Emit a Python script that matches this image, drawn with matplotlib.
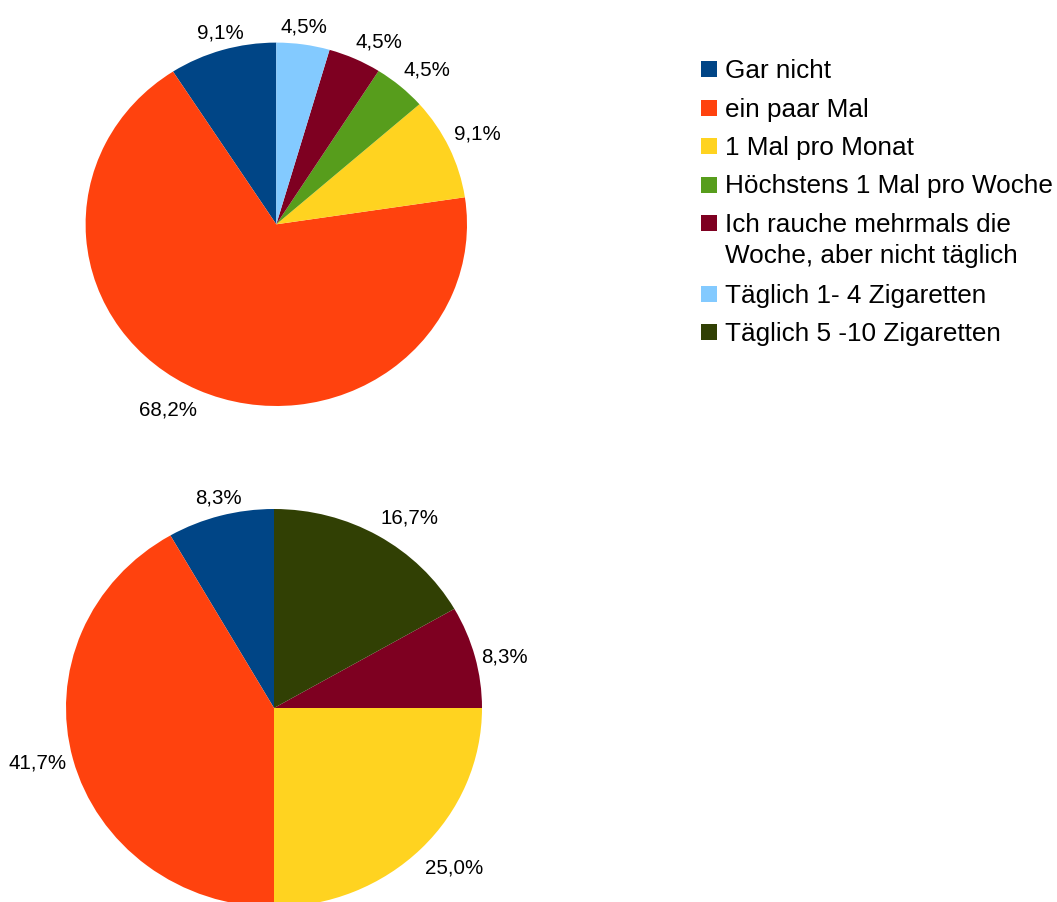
import numpy as np
import matplotlib
matplotlib.use('Agg')
from matplotlib import pyplot as plt
from matplotlib.patches import Rectangle
from matplotlib.transforms import offset_copy

plt.rcParams['font.family'] = ['Liberation Sans', 'DejaVu Sans']

categories = [
    'Gar nicht',
    'ein paar Mal',
    '1 Mal pro Monat',
    'Höchstens 1 Mal pro Woche',
    'Ich rauche mehrmals die\nWoche, aber nicht täglich',
    'Täglich 1- 4 Zigaretten',
    'Täglich 5 -10 Zigaretten',
]
colors = ['#004586', '#ff420e', '#ffd320', '#579d1c', '#7e0021', '#83caff', '#314004']

# percentages as printed on the two pies
top_pct = [9.1, 68.2, 9.1, 4.5, 4.5, 4.5, 0.0]
bottom_pct = [8.3, 41.7, 25.0, 0.0, 8.3, 0.0, 16.7]

W, H = 1057, 902
fig = plt.figure(figsize=(W / 100, H / 100), dpi=100)

LIM = 1.35


def pie_axes(cx, cy, rx, ry):
    # cx, cy in pixels from top-left; rx, ry radius in pixels
    w = 2 * LIM * rx
    h = 2 * LIM * ry
    left = cx - w / 2
    bottom = (H - cy) - h / 2
    return fig.add_axes([left / W, bottom / H, w / W, h / H])


def draw_pie(ax, values):
    keep = [i for i, v in enumerate(values) if v > 0]
    vals = [values[i] for i in keep]
    wedges, _ = ax.pie(vals, colors=[colors[i] for i in keep], startangle=90,
                       counterclock=True, wedgeprops=dict(linewidth=0))
    ax.set_aspect('auto')
    ax.set_xlim(-LIM, LIM)
    ax.set_ylim(-LIM, LIM)
    for w, v in zip(wedges, vals):
        mid = np.deg2rad((w.theta1 + w.theta2) / 2)
        c, s = np.cos(mid), np.sin(mid)
        ha = 'center' if abs(c) < 0.35 else ('left' if c > 0 else 'right')
        va = 'center' if abs(s) < 0.35 else ('baseline' if s > 0 else 'top')
        dy = {'top': -4, 'baseline': 5, 'center': -2}[va]
        dx = {'left': -2, 'right': 2, 'center': 0}[ha]
        tr = offset_copy(ax.transData, fig=fig, x=dx, y=dy, units='dots')
        ax.text(1.04 * c, 1.04 * s, f'{v:.1f}%'.replace('.', ','), transform=tr,
                ha=ha, va=va, fontsize=14.8, color='black')


ax1 = pie_axes(276.3, 224.3, 190.7, 181.7)
draw_pie(ax1, top_pct)

ax2 = pie_axes(274, 708, 208, 199)
draw_pie(ax2, bottom_pct)

# legend, drawn in pixel coordinates
leg = fig.add_axes([0, 0, 1, 1])
leg.set_xlim(0, W)
leg.set_ylim(H, 0)
leg.axis('off')
y = 69
for name, col in zip(categories, colors):
    leg.add_patch(Rectangle((701, y - 8), 16, 16, facecolor=col, edgecolor='none'))
    lines = name.split('\n')
    for k, line in enumerate(lines):
        leg.text(725, y + 2 + k * 31, line, ha='left', va='center', fontsize=18.8, color='black')
    y += 38.5 + (len(lines) - 1) * 32

fig.savefig('out.png', dpi=100)
